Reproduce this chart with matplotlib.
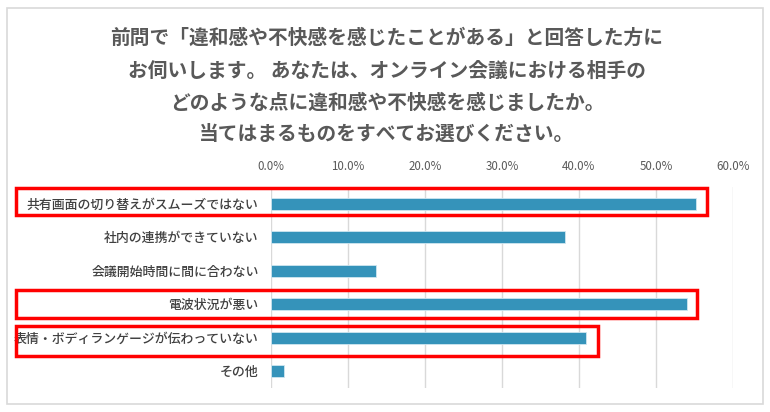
import matplotlib.pyplot as plt
from matplotlib.patches import Rectangle
from matplotlib.ticker import FuncFormatter

plt.rcParams['font.family'] = ['Noto Sans CJK JP', 'DejaVu Sans']

# data
categories = [
    '共有画面の切り替えがスムーズではない',
    '社内の連携ができていない',
    '会議開始時間に間に合わない',
    '電波状況が悪い',
    '表情・ボディランゲージが伝わっていない',
    'その他',
]
values = [55.2, 38.2, 13.6, 54.0, 40.9, 1.7]
ticks = [0, 10, 20, 30, 40, 50, 60]
title_lines = [
    '前問で「違和感や不快感を感じたことがある」と回答した方に',
    'お伺いします。 あなたは、オンライン会議における相手の',
    'どのような点に違和感や不快感を感じましたか。',
    '当てはまるものをすべてお選びください。',
]

W, H = 770, 412
fig = plt.figure(figsize=(W / 100, H / 100), dpi=100)

# outer frame
fig.patches.append(Rectangle((7 / W, 1 - 404 / H), 756 / W, 396 / H,
                             transform=fig.transFigure, fill=False,
                             edgecolor='#D9D9D9', linewidth=1.2))

# title
title_y = [38, 71, 103, 134]
for line, yy in zip(title_lines, title_y):
    fig.text(387 / W, 1 - yy / H, line, ha='center', va='center',
             fontsize=14.2, fontweight='bold', color='#595959')

ax = fig.add_axes([271 / W, 1 - 388 / H, 462 / W, 201 / H])
y = list(range(len(categories)))
ax.barh(y, values, height=0.36, color='#3593BA', edgecolor='#CFE6F0', linewidth=0.6, zorder=3)
ax.set_xlim(0, 60)
ax.set_ylim(len(categories) - 0.5, -0.5)
ax.set_xticks(ticks)
ax.xaxis.set_major_formatter(FuncFormatter(lambda v, p: f'{v:.1f}%'))
ax.xaxis.tick_top()
ax.tick_params(axis='x', length=0, pad=10, labelsize=8.3, labelcolor='#595959')
ax.set_yticks(y)
ax.set_yticklabels(categories, fontsize=9.3, color='#404040', fontweight='medium')
ax.tick_params(axis='y', length=0, pad=9)
ax.grid(axis='x', color='#D9D9D9', linewidth=1, zorder=0)
for s in ax.spines.values():
    s.set_visible(False)

# red highlight boxes
boxes = [(16, 188, 707, 215), (16, 290, 697, 318), (16, 326, 598, 356)]
for x0, y0, x1, y1 in boxes:
    fig.patches.append(Rectangle((x0 / W, 1 - y1 / H), (x1 - x0) / W, (y1 - y0) / H,
                                 transform=fig.transFigure, fill=False,
                                 edgecolor='#FF0000', linewidth=2.5, zorder=5))

fig.savefig('out.png', dpi=100)
